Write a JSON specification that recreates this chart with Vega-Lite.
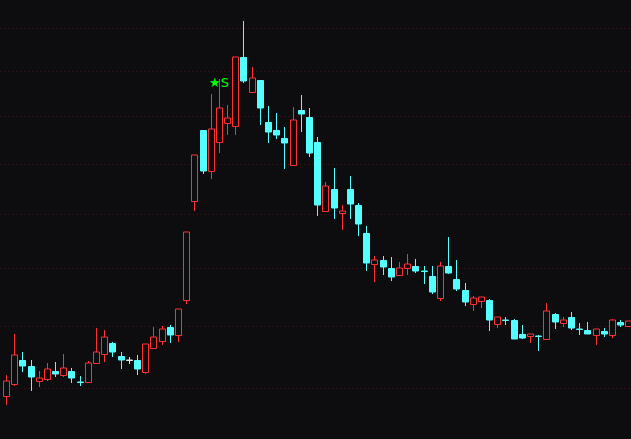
{
  "$schema": "https://vega.github.io/schema/vega-lite/v6.json",
  "width": 631,
  "height": 439,
  "autosize": {"type": "none"},
  "padding": 0,
  "background": "#0d0d10",
  "config": {
    "view": {"stroke": null},
    "axis": {"domain": false, "ticks": false, "labels": false, "title": null}
  },
  "data": {
    "values": [
      {"i": 0, "o": 12.876, "h": 13.204, "l": 12.739, "c": 13.109},
      {"i": 1, "o": 13.067, "h": 13.867, "l": 13.036, "c": 13.523},
      {"i": 2, "o": 13.442, "h": 13.572, "l": 13.251, "c": 13.346},
      {"i": 3, "o": 13.346, "h": 13.442, "l": 12.953, "c": 13.172},
      {"i": 4, "o": 13.114, "h": 13.267, "l": 13.016, "c": 13.152},
      {"i": 5, "o": 13.141, "h": 13.394, "l": 13.109, "c": 13.294},
      {"i": 6, "o": 13.267, "h": 13.41, "l": 13.172, "c": 13.219},
      {"i": 7, "o": 13.208, "h": 13.539, "l": 13.172, "c": 13.31},
      {"i": 8, "o": 13.267, "h": 13.314, "l": 13.078, "c": 13.156},
      {"i": 9, "o": 13.094, "h": 13.188, "l": 13.031, "c": 13.094},
      {"i": 10, "o": 13.089, "h": 13.422, "l": 13.089, "c": 13.389},
      {"i": 11, "o": 13.399, "h": 13.967, "l": 13.399, "c": 13.567},
      {"i": 12, "o": 13.544, "h": 13.933, "l": 13.415, "c": 13.812},
      {"i": 13, "o": 13.713, "h": 13.735, "l": 13.495, "c": 13.577},
      {"i": 14, "o": 13.507, "h": 13.572, "l": 13.303, "c": 13.447},
      {"i": 15, "o": 13.447, "h": 13.495, "l": 13.378, "c": 13.447},
      {"i": 16, "o": 13.442, "h": 13.518, "l": 13.208, "c": 13.303},
      {"i": 17, "o": 13.256, "h": 13.697, "l": 13.224, "c": 13.697},
      {"i": 18, "o": 13.632, "h": 13.988, "l": 13.632, "c": 13.812},
      {"i": 19, "o": 13.746, "h": 14.0, "l": 13.691, "c": 13.945},
      {"i": 20, "o": 13.983, "h": 14.017, "l": 13.723, "c": 13.85},
      {"i": 21, "o": 13.845, "h": 14.282, "l": 13.74, "c": 14.282},
      {"i": 22, "o": 14.437, "h": 15.659, "l": 14.378, "c": 15.659},
      {"i": 23, "o": 16.25, "h": 17.169, "l": 16.069, "c": 17.169},
      {"i": 24, "o": 17.696, "h": 17.696, "l": 16.795, "c": 16.856},
      {"i": 25, "o": 16.844, "h": 18.474, "l": 16.695, "c": 17.711},
      {"i": 26, "o": 17.45, "h": 18.802, "l": 17.222, "c": 18.161, "sig": "S"},
      {"i": 27, "o": 17.838, "h": 18.233, "l": 17.597, "c": 17.945},
      {"i": 28, "o": 17.774, "h": 19.303, "l": 17.597, "c": 19.303},
      {"i": 29, "o": 19.31, "h": 20.159, "l": 18.725, "c": 18.77},
      {"i": 30, "o": 18.512, "h": 19.08, "l": 18.512, "c": 18.824},
      {"i": 31, "o": 18.779, "h": 18.779, "l": 17.808, "c": 18.174},
      {"i": 32, "o": 17.866, "h": 18.211, "l": 17.429, "c": 17.647},
      {"i": 33, "o": 17.69, "h": 18.059, "l": 17.513, "c": 17.597},
      {"i": 34, "o": 17.528, "h": 17.76, "l": 16.896, "c": 17.429},
      {"i": 35, "o": 16.977, "h": 18.189, "l": 16.977, "c": 17.902},
      {"i": 36, "o": 18.124, "h": 18.452, "l": 17.66, "c": 18.038},
      {"i": 37, "o": 17.973, "h": 18.168, "l": 17.14, "c": 17.222},
      {"i": 38, "o": 17.444, "h": 17.542, "l": 15.973, "c": 16.184},
      {"i": 39, "o": 16.057, "h": 16.63, "l": 16.057, "c": 16.55},
      {"i": 40, "o": 16.491, "h": 16.91, "l": 15.916, "c": 16.127},
      {"i": 41, "o": 16.03, "h": 16.173, "l": 15.708, "c": 16.063},
      {"i": 42, "o": 16.491, "h": 16.749, "l": 15.916, "c": 16.204},
      {"i": 43, "o": 16.179, "h": 16.217, "l": 15.596, "c": 15.821},
      {"i": 44, "o": 15.646, "h": 15.778, "l": 14.957, "c": 15.1},
      {"i": 45, "o": 15.082, "h": 15.222, "l": 14.756, "c": 15.149},
      {"i": 46, "o": 15.149, "h": 15.222, "l": 14.885, "c": 15.028},
      {"i": 47, "o": 15.0, "h": 15.204, "l": 14.779, "c": 14.85},
      {"i": 48, "o": 14.885, "h": 15.108, "l": 14.862, "c": 15.005},
      {"i": 49, "o": 15.01, "h": 15.258, "l": 14.88, "c": 15.072},
      {"i": 50, "o": 15.041, "h": 15.167, "l": 14.921, "c": 14.957},
      {"i": 51, "o": 14.946, "h": 15.046, "l": 14.721, "c": 14.946},
      {"i": 52, "o": 14.862, "h": 15.041, "l": 14.551, "c": 14.581},
      {"i": 53, "o": 14.482, "h": 15.113, "l": 14.43, "c": 15.041},
      {"i": 54, "o": 15.041, "h": 15.571, "l": 14.898, "c": 14.921},
      {"i": 55, "o": 14.809, "h": 15.149, "l": 14.598, "c": 14.633},
      {"i": 56, "o": 14.616, "h": 14.738, "l": 14.339, "c": 14.413},
      {"i": 57, "o": 14.378, "h": 14.506, "l": 14.258, "c": 14.471},
      {"i": 58, "o": 14.43, "h": 14.489, "l": 14.304, "c": 14.489},
      {"i": 59, "o": 14.442, "h": 14.459, "l": 13.922, "c": 14.106},
      {"i": 60, "o": 14.039, "h": 14.146, "l": 13.972, "c": 14.146},
      {"i": 61, "o": 14.101, "h": 14.151, "l": 14.017, "c": 14.101},
      {"i": 62, "o": 14.101, "h": 14.118, "l": 13.789, "c": 13.789},
      {"i": 63, "o": 13.867, "h": 14.017, "l": 13.784, "c": 13.801},
      {"i": 64, "o": 13.839, "h": 13.867, "l": 13.723, "c": 13.867},
      {"i": 65, "o": 13.829, "h": 13.85, "l": 13.593, "c": 13.829},
      {"i": 66, "o": 13.779, "h": 14.39, "l": 13.779, "c": 14.248},
      {"i": 67, "o": 14.202, "h": 14.219, "l": 13.945, "c": 14.072},
      {"i": 68, "o": 14.055, "h": 14.151, "l": 13.988, "c": 14.096},
      {"i": 69, "o": 14.151, "h": 14.236, "l": 13.928, "c": 13.962},
      {"i": 70, "o": 13.95, "h": 14.055, "l": 13.855, "c": 13.95},
      {"i": 71, "o": 13.928, "h": 14.067, "l": 13.872, "c": 13.872},
      {"i": 72, "o": 13.845, "h": 13.955, "l": 13.691, "c": 13.955},
      {"i": 73, "o": 13.917, "h": 13.967, "l": 13.822, "c": 13.872},
      {"i": 74, "o": 13.845, "h": 14.118, "l": 13.806, "c": 14.096},
      {"i": 75, "o": 14.067, "h": 14.101, "l": 13.988, "c": 14.022},
      {"i": 76, "o": 14.0, "h": 14.084, "l": 14.0, "c": 14.084}
    ]
  },
  "transform": [
    {"window": [{"op": "lag", "field": "c", "param": 1, "as": "pc"}], "sort": [{"field": "i"}]},
    {"calculate": "datum.c > datum.o ? 'up' : datum.c < datum.o ? 'down' : (datum.pc != null && datum.c < datum.pc ? 'down' : (datum.pc != null && datum.c > datum.pc ? 'up' : 'flat'))", "as": "dir"}
  ],
  "encoding": {
    "x": {
      "field": "i",
      "type": "quantitative",
      "scale": {"domain": [-0.1202, 75.721], "nice": false, "zero": false, "round": true},
      "axis": null
    }
  },
  "layer": [
    {
      "mark": {"type": "rule", "strokeWidth": 1, "xOffset": 0.5},
      "encoding": {
        "y": {
          "field": "l",
          "type": "quantitative",
          "scale": {"type": "log", "domain": [12.2312, 20.671], "nice": false, "zero": false, "round": true},
          "axis": {"values": [13, 14, 15, 16, 17, 18, 19, 20], "grid": true, "gridColor": "#5a1010", "gridDash": [1, 3], "gridWidth": 1, "labels": false, "ticks": false, "domain": false, "title": null}
        },
        "y2": {"field": "h"},
        "color": {
          "field": "dir",
          "type": "nominal",
          "scale": {"domain": ["up", "down", "flat"], "range": ["#ff3232", "#54ffff", "#e6e6e6"]},
          "legend": null
        }
      }
    },
    {
      "mark": {"type": "bar", "orient": "vertical", "size": 6, "strokeWidth": 1, "xOffset": 0.5, "yOffset": 0.5},
      "encoding": {
        "y": {
          "field": "o",
          "type": "quantitative",
          "scale": {"type": "log", "domain": [12.2312, 20.671], "nice": false, "zero": false, "round": true},
          "axis": {"values": [13, 14, 15, 16, 17, 18, 19, 20], "grid": true, "gridColor": "#5a1010", "gridDash": [1, 3], "gridWidth": 1, "labels": false, "ticks": false, "domain": false, "title": null}
        },
        "y2": {"field": "c"},
        "fill": {
          "field": "dir",
          "type": "nominal",
          "scale": {"domain": ["up", "down", "flat"], "range": ["#0d0d10", "#54ffff", "#e6e6e6"]},
          "legend": null
        },
        "stroke": {
          "field": "dir",
          "type": "nominal",
          "scale": {"domain": ["up", "down", "flat"], "range": ["#ff3232", "#54ffff", "#e6e6e6"]},
          "legend": null
        }
      }
    },
    {
      "transform": [
        {"filter": "datum.sig"},
        {"calculate": "'★' + datum.sig", "as": "label"}
      ],
      "mark": {"type": "text", "align": "center", "baseline": "middle", "dy": 4, "fontSize": 13, "font": "DejaVu Sans", "color": "#00ff00"},
      "encoding": {
        "y": {
          "field": "h",
          "type": "quantitative",
          "scale": {"type": "log", "domain": [12.2312, 20.671], "nice": false, "zero": false, "round": true},
          "axis": {"values": [13, 14, 15, 16, 17, 18, 19, 20], "grid": true, "gridColor": "#5a1010", "gridDash": [1, 3], "gridWidth": 1, "labels": false, "ticks": false, "domain": false, "title": null}
        },
        "text": {"field": "label"}
      }
    }
  ],
  "resolve": {"scale": {"color": "independent", "fill": "independent", "stroke": "independent"}}
}
